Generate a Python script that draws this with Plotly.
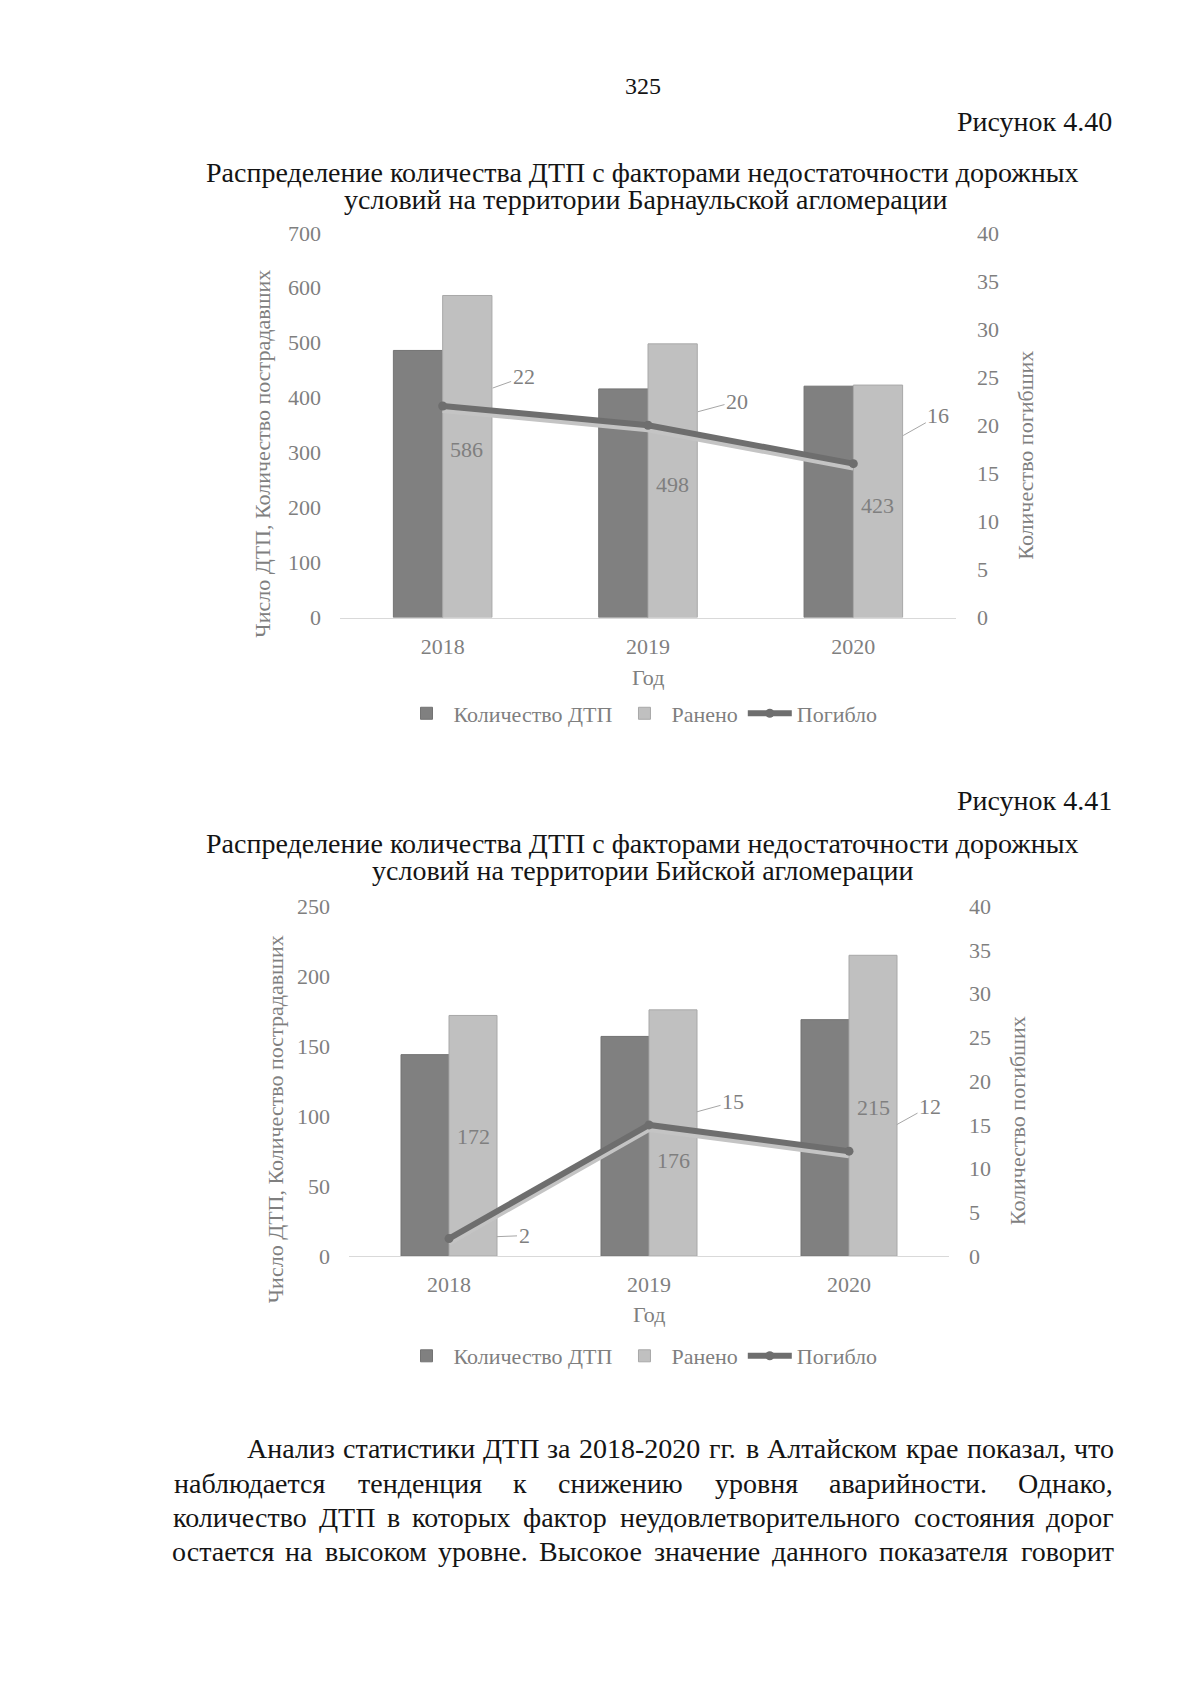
import plotly.graph_objects as go

# ---------------- data ----------------
years = ["2018", "2019", "2020"]
barn_dtp = [486, 416, 421]
barn_injured = [586, 498, 423]
barn_killed = [22, 20, 16]
biysk_dtp = [144, 157, 169]
biysk_injured = [172, 176, 215]
biysk_killed = [2, 15, 12]

left_ticks_1 = [0, 100, 200, 300, 400, 500, 600, 700]
left_ticks_2 = [0, 50, 100, 150, 200, 250]
right_ticks = [0, 5, 10, 15, 20, 25, 30, 35, 40]

series_names = ["Количество ДТП", "Ранено", "Погибло"]
x_title = "Год"
y_left_title = "Число ДТП, Количество пострадавших"
y_right_title = "Количество погибших"

page_number = "325"
fig_labels = ["Рисунок 4.40", "Рисунок 4.41"]
title1 = ["Распределение количества ДТП с факторами недостаточности дорожных",
          "условий на территории Барнаульской агломерации"]
title2 = ["Распределение количества ДТП с факторами недостаточности дорожных",
          "условий на территории Бийской агломерации"]
paragraph = [
    "Анализ статистики ДТП за 2018-2020 гг. в Алтайском крае показал, что",
    "наблюдается тенденция к снижению уровня аварийности. Однако,",
    "количество ДТП в которых фактор неудовлетворительного состояния дорог",
    "остается на высоком уровне. Высокое значение данного показателя говорит",
]

# ---------------- style ----------------
W, H = 1200, 1697
FONT = "Liberation Serif, Times New Roman, serif"
GRAY_TXT = "#7f7f7f"
DARK = "#808080"
LIGHT = "#c0c0c0"
LINE = "#6e6e6e"
SHADOW = "#c4c4c4"
TS = 22

# vertical calibration of the page photograph
VS, VO = 0.986, 12.0


def px(x):
    return x / W


def py(y):
    return 1 - ((y - VO) / VS) / H


fig = go.Figure()

# chart 1 traces
fig.add_trace(go.Bar(x=years, y=barn_dtp, name=series_names[0], xaxis="x", yaxis="y",
                     marker=dict(color=DARK, line=dict(color="#737373", width=1)),
                     legend="legend", hoverinfo="skip"))
fig.add_trace(go.Bar(x=years, y=barn_injured, name=series_names[1], xaxis="x", yaxis="y",
                     marker=dict(color=LIGHT, line=dict(color="#a8a8a8", width=1)),
                     legend="legend", hoverinfo="skip"))
fig.add_trace(go.Scatter(x=years, y=barn_killed, xaxis="x", yaxis="y2", mode="lines",
                         line=dict(color=SHADOW, width=6), showlegend=False, hoverinfo="skip"))
fig.add_trace(go.Scatter(x=years, y=barn_killed, name=series_names[2], xaxis="x", yaxis="y3",
                         mode="lines+markers", line=dict(color=LINE, width=6),
                         marker=dict(color=LINE, size=9), legend="legend", hoverinfo="skip"))

# chart 2 traces
fig.add_trace(go.Bar(x=years, y=biysk_dtp, name=series_names[0], xaxis="x2", yaxis="y5",
                     marker=dict(color=DARK, line=dict(color="#737373", width=1)),
                     legend="legend2", hoverinfo="skip"))
fig.add_trace(go.Bar(x=years, y=biysk_injured, name=series_names[1], xaxis="x2", yaxis="y5",
                     marker=dict(color=LIGHT, line=dict(color="#a8a8a8", width=1)),
                     legend="legend2", hoverinfo="skip"))
fig.add_trace(go.Scatter(x=years, y=biysk_killed, xaxis="x2", yaxis="y6", mode="lines",
                         line=dict(color=SHADOW, width=6), showlegend=False, hoverinfo="skip"))
fig.add_trace(go.Scatter(x=years, y=biysk_killed, name=series_names[2], xaxis="x2", yaxis="y7",
                         mode="lines+markers", line=dict(color=LINE, width=6),
                         marker=dict(color=LINE, size=9), legend="legend2", hoverinfo="skip"))

tickfont = dict(family=FONT, size=TS, color=GRAY_TXT)

xax_common = dict(type="category", tickfont=tickfont, showgrid=False, zeroline=False,
                  showline=True, linecolor="#d9d9d9", linewidth=1, ticks="",
                  ticklabelstandoff=9, fixedrange=True,
                  range=[-0.5, len(years) - 0.5], categoryorder="array", categoryarray=years)
yleft_common = dict(tickfont=tickfont, showgrid=False, zeroline=False, showline=False,
                    ticks="", ticklabelstandoff=18, fixedrange=True)

# shadow offset in axis units so that it appears ~4px lower
sh1 = 40 * 4 / (618 - 233)
sh2 = 40 * 4 / (1257 - 907)

legend_common = dict(orientation="h", xanchor="center", yanchor="middle",
                     font=dict(family=FONT, size=TS, color=GRAY_TXT), bgcolor="rgba(0,0,0,0)",
                     itemwidth=44, traceorder="normal")

layout = dict(
    width=W, height=H, margin=dict(l=0, r=0, t=0, b=0),
    paper_bgcolor="white", plot_bgcolor="rgba(0,0,0,0)",
    barmode="group", bargap=0.52, bargroupgap=0,
    font=dict(family=FONT, color=GRAY_TXT, size=TS),
    xaxis=dict(domain=[px(340), px(956)], anchor="y", **xax_common),
    yaxis=dict(domain=[py(618), py(233)], anchor="x", range=[0, 700],
               tickvals=left_ticks_1, **yleft_common),
    yaxis2=dict(overlaying="y", anchor="x", range=[sh1, 40 + sh1], visible=False),
    yaxis3=dict(overlaying="y", anchor="x", side="right", range=[0, 40], tickvals=right_ticks,
                tickfont=tickfont, showgrid=False, zeroline=False, ticks="",
                ticklabelstandoff=20, fixedrange=True),
    yaxis4=dict(overlaying="y", anchor="x", range=[0, 700], tickvals=[left_ticks_1[-2]],
                showgrid=True, gridcolor="#bfbfbf", gridwidth=1, showticklabels=False,
                zeroline=False, ticks="", showline=False),
    xaxis2=dict(domain=[px(349), px(949)], anchor="y5", **xax_common),
    yaxis5=dict(domain=[py(1257), py(907)], anchor="x2", range=[0, 250],
                tickvals=left_ticks_2, **yleft_common),
    yaxis6=dict(overlaying="y5", anchor="x2", range=[sh2, 40 + sh2], visible=False),
    yaxis7=dict(overlaying="y5", anchor="x2", side="right", range=[0, 40], tickvals=right_ticks,
                tickfont=tickfont, showgrid=False, zeroline=False, ticks="",
                ticklabelstandoff=19, fixedrange=True),
    legend=dict(x=px(641), y=py(714), **legend_common),
    legend2=dict(x=px(641), y=py(1357), **legend_common),
    showlegend=True,
)
fig.update_layout(**layout)

ann = []
TXT = "#141414"


def txt(text, x, y, size=28, xanchor="center", color=TXT, angle=0):
    ann.append(dict(text=text, x=px(x), y=py(y), xref="paper", yref="paper",
                    xanchor=xanchor, yanchor="middle", showarrow=False, textangle=angle,
                    font=dict(family=FONT, size=size, color=color)))


txt(page_number, 643, 86, size=24)
txt(fig_labels[0], 1114, 122, xanchor="right")
txt(title1[0], 642, 173)
txt(title1[1], 646, 200)
txt(fig_labels[1], 1114, 801, xanchor="right")
txt(title2[0], 642, 844)
txt(title2[1], 643, 871)

# axis titles
txt(x_title, 648, 678, size=TS, color=GRAY_TXT)
txt(x_title, 649, 1315, size=TS, color=GRAY_TXT)
txt(y_left_title, 263, 454, size=TS, color=GRAY_TXT, angle=-90)
txt(y_left_title, 275, 1120, size=TS, color=GRAY_TXT, angle=-90)
txt(y_right_title, 1026, 456, size=TS, color=GRAY_TXT, angle=-90)
txt(y_right_title, 1017, 1122, size=TS, color=GRAY_TXT, angle=-90)

# value labels inside the "Ранено" bars (placed at half height, small per-label nudges)
inj_nudge1 = [7, -4, -4]
inj_nudge2 = [-1, -28, -2]
for vals, nudges, xr, yr, xs in [(barn_injured, inj_nudge1, "x", "y", 24),
                                 (biysk_injured, inj_nudge2, "x2", "y5", 24)]:
    for i, (v, n) in enumerate(zip(vals, nudges)):
        ann.append(dict(x=i, y=v / 2, xref=xr, yref=yr, text=str(v), showarrow=False,
                        xshift=xs, yshift=n, xanchor="center", yanchor="middle",
                        font=dict(family=FONT, size=TS, color=GRAY_TXT)))

# data callouts for "Погибло" (category index used as x position)
callouts1 = [(81, -29), (89, -24), (85, -48)]
callouts2 = [(75, -3), (84, -23), (81, -45)]
for (vals, offs, xr, yr, half) in [(barn_killed, callouts1, "x", "y3", 49),
                                   (biysk_killed, callouts2, "x2", "y7", 47)]:
    for i, (v, (ax, ay)) in enumerate(zip(vals, offs)):
        dist = (ax ** 2 + ay ** 2) ** 0.5
        ann.append(dict(x=i, y=v, xref=xr, yref=yr, text=str(v), showarrow=True,
                        ax=ax, ay=ay, arrowhead=0, arrowwidth=1, arrowcolor="#a6a6a6",
                        standoff=half * dist / ax + 1,
                        font=dict(family=FONT, size=TS, color=GRAY_TXT)))

# justified paragraph
CW = {
    'а': 444, 'б': 509, 'в': 472, 'г': 410, 'д': 509, 'е': 444, 'ж': 691, 'з': 395, 'и': 535,
    'й': 535, 'к': 486, 'л': 499, 'м': 633, 'н': 535, 'о': 500, 'п': 535, 'р': 500, 'с': 444,
    'т': 437, 'у': 500, 'ф': 648, 'х': 500, 'ц': 535, 'ч': 503, 'ш': 770, 'щ': 770, 'ъ': 517,
    'ы': 672, 'ь': 456, 'э': 429, 'ю': 747, 'я': 486,
    'А': 722, 'Б': 574, 'В': 667, 'Г': 578, 'Д': 682, 'Е': 611, 'О': 722, 'П': 722, 'Т': 611,
    'Ч': 668, 'К': 678, 'Р': 556,
    '.': 250, ',': 250, '-': 333, ' ': 250,
}


def wwidth(w, size):
    return sum(CW.get(c, 500) for c in w) / 1000 * size


para_y = [1450, 1485, 1519, 1553]
para_x0 = [247, 173, 173, 173]
para_x1 = 1114
PS = 28
for line, yy, x0 in zip(paragraph, para_y, para_x0):
    words = line.split(" ")
    widths = [wwidth(w, PS) for w in words]
    gap = (para_x1 - x0 - sum(widths)) / (len(words) - 1)
    x = x0
    for w, wd in zip(words, widths):
        txt(w, x + wd / 2, yy, size=PS)
        x += wd + gap

fig.update_layout(annotations=ann)
fig.write_html(
    "out.html",
    config={"displayModeBar": False, "staticPlot": True},
    post_script=("document.documentElement.style.margin='0';"
                 "document.body.style.margin='0';document.body.style.padding='0';"),
)
